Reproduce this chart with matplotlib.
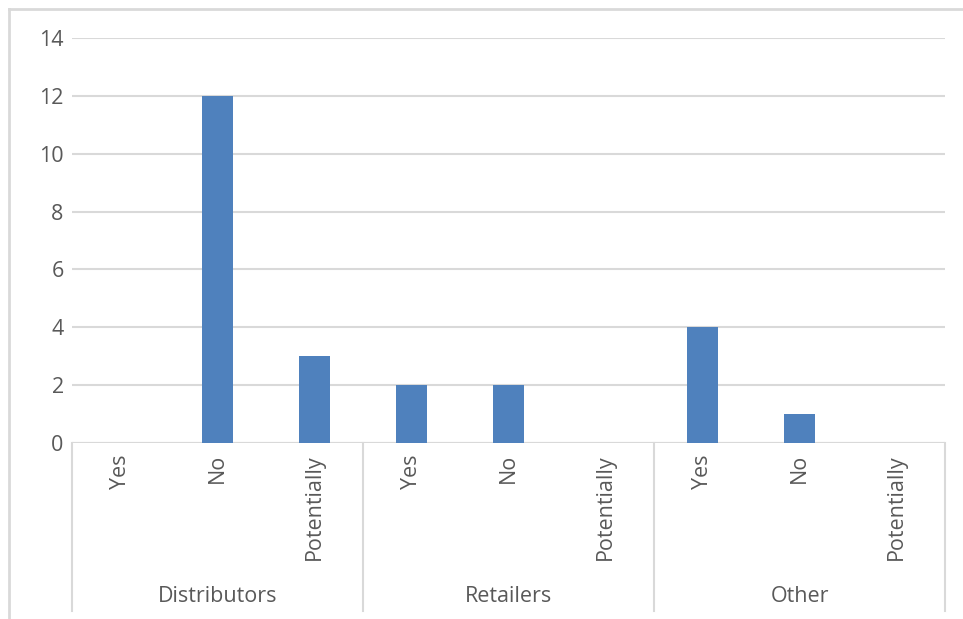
import numpy as np
import matplotlib.pyplot as plt
from matplotlib.lines import Line2D
from matplotlib.transforms import blended_transform_factory

plt.rcParams['font.family'] = ['Open Sans', 'DejaVu Sans']

groups = ['Distributors', 'Retailers', 'Other']
answers = ['Yes', 'No', 'Potentially']
counts = [0, 12, 3, 2, 2, 0, 4, 1, 0]

bar_color = '#4F81BD'
grid_color = '#D9D9D9'
text_color = '#595959'
fs = 15.5

W, H = 963, 619
fig = plt.figure(figsize=(W / 100, H / 100), dpi=100)
ax = fig.add_axes([72 / W, 1 - 443 / H, (945 - 72) / W, (443 - 38) / H])

x = np.arange(len(counts))
ax.bar(x, counts, width=0.31, color=bar_color, zorder=3)

ax.set_xlim(-0.5, len(counts) - 0.5)
ax.set_ylim(0, 14)
ax.set_yticks(np.arange(0, 15, 2))
ax.yaxis.grid(True, color=grid_color, linewidth=1.5, zorder=0)
ax.tick_params(axis='y', length=0, pad=6, labelsize=fs, labelcolor=text_color)

ax.set_xticks(x)
ax.set_xticklabels(answers * len(groups), rotation=90, va='top', ha='center')
ax.tick_params(axis='x', length=0, pad=8, labelsize=fs, labelcolor=text_color)

for s in ax.spines.values():
    s.set_visible(False)
ax.axhline(0, color=grid_color, linewidth=1.5, zorder=2)

# group separators and group names below the axis
trans = blended_transform_factory(ax.transData, fig.transFigure)
bottom = 1 - 611 / H
for k in range(len(groups) + 1):
    xp = k * len(answers) - 0.5
    ax.add_line(Line2D([xp, xp], [bottom, 1 - 443 / H], transform=trans,
                       color=grid_color, linewidth=1.5, clip_on=False))
for k, g in enumerate(groups):
    ax.text(k * len(answers) + 1, 1 - 596 / H, g, transform=trans,
            ha='center', va='center', fontsize=fs, color=text_color)

# chart frame
fig.add_artist(Line2D([8.5 / W, 8.5 / W], [0, 1 - 9 / H], transform=fig.transFigure,
                      color=grid_color, linewidth=2))
fig.add_artist(Line2D([8.5 / W, 1], [1 - 9 / H, 1 - 9 / H], transform=fig.transFigure,
                      color=grid_color, linewidth=2))

fig.savefig('out.png', dpi=100)
